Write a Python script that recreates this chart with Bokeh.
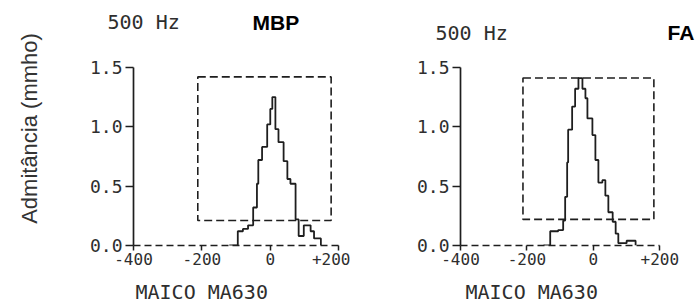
import numpy as np
from bokeh.plotting import figure
from bokeh.layouts import row, column
from bokeh.models import Label, Range1d, FixedTicker
from bokeh.embed import file_html
from bokeh.resources import INLINE

# ---- data ----
y_ticks = [0, 0.5, 1.0, 1.5]
y_tick_labels = {0: "0.0", 0.5: "0.5", 1: "1.0", 1.5: "1.5"}
x_ticks = [-400, -200, 0, 200]
x_tick_labels = {-400: "-400", -200: "-200", 0: "0", 200: "+200"}

# MBP panel (pressure daPa, admittance mmho), step trace
mbp_x = [-120, -95, -80, -65, -50, -39, -35, -24, -9, 0, 6, 15, 24, 39, 50, 59, 74, 83, 98, 118, 128, 148]
mbp_y = [0.0, 0.12, 0.14, 0.17, 0.32, 0.52, 0.72, 0.83, 1.02, 1.15, 1.25, 0.98, 0.87, 0.71, 0.56, 0.52, 0.22, 0.08, 0.17, 0.12, 0.06, 0.0]
mbp_box = dict(left=[-212], right=[178], bottom=[0.21], top=[1.42])

# FA panel
fa_x = [-150, -130, -106, -91, -85, -79, -76, -64, -55, -45, -33, -24, -18, -3, 6, 15, 27, 36, 45, 58, 67, 75, 100, 127]
fa_y = [0.0, 0.12, 0.13, 0.21, 0.41, 0.70, 0.975, 1.17, 1.32, 1.41, 1.32, 1.24, 1.07, 0.93, 0.72, 0.53, 0.55, 0.42, 0.28, 0.20, 0.10, 0.02, 0.04, 0.0]
fa_box = dict(left=[-212], right=[182], bottom=[0.22], top=[1.41])

MONO = "DejaVu Sans Mono"
SANS = "Liberation Sans"
INK = "#1e1e1e"
TXT = "#2e2e2e"


def make_panel(width, height, yend, mb_left, mb_right, mb_top, mb_bottom, xs, ys, box):
    p = figure(width=width, height=height, output_backend="svg", toolbar_location=None,
               x_range=Range1d(-400, 220), y_range=Range1d(0, yend),
               min_border_left=mb_left, min_border_right=mb_right,
               min_border_top=mb_top, min_border_bottom=mb_bottom)
    p.outline_line_color = None
    p.grid.visible = False
    p.background_fill_color = "white"

    ya = p.yaxis[0]
    ya.ticker = FixedTicker(ticks=y_ticks)
    ya.major_label_overrides = y_tick_labels
    ya.bounds = (0, 1.5)
    ya.axis_line_color = INK
    ya.axis_line_width = 1.7
    ya.major_tick_line_color = INK
    ya.major_tick_line_width = 1.5
    ya.major_tick_out = 8
    ya.major_tick_in = 0
    ya.minor_tick_line_color = None
    ya.major_label_standoff = 3
    ya.major_label_text_font = MONO
    ya.major_label_text_font_size = "18px"
    ya.major_label_text_color = TXT

    xa = p.xaxis[0]
    xa.ticker = FixedTicker(ticks=x_ticks)
    xa.major_label_overrides = x_tick_labels
    xa.bounds = (-400, 200)
    xa.axis_line_color = INK
    xa.axis_line_width = 1.6
    xa.axis_line_dash = "7 4"
    xa.major_tick_line_color = INK
    xa.major_tick_line_width = 1.5
    xa.major_tick_out = 5
    xa.major_tick_in = 0
    xa.minor_tick_line_color = None
    xa.major_label_standoff = 2
    xa.major_label_text_font = MONO
    xa.major_label_text_font_size = "16px"
    xa.major_label_text_color = TXT

    p.quad(left=box["left"], right=box["right"], bottom=box["bottom"], top=box["top"],
           fill_color=None, line_color=INK, line_width=1.6, line_dash="8 4")
    p.step(xs, ys, mode="after", line_color=INK, line_width=1.8)
    return p


def text_strip(width, height, x0, y0):
    # a plain strip whose data coordinates equal page pixels
    s = figure(width=width, height=height, output_backend="svg", toolbar_location=None,
               x_range=Range1d(x0, x0 + width), y_range=Range1d(y0 + height, y0),
               x_axis_type=None, y_axis_type=None,
               min_border_left=0, min_border_right=0, min_border_top=0, min_border_bottom=0)
    s.outline_line_color = None
    s.grid.visible = False
    return s


LW = 45  # left strip width for the y label

ylab = text_strip(LW, 306, 0, 0)
ylab.add_layout(Label(x=29, y=128, text="Admitância (mmho)", text_font=SANS, text_font_size="22px",
                      text_color="#333333", text_align="center", text_baseline="middle",
                      angle=np.pi / 2))

header = text_strip(699 - LW, 46, LW, 0)
header.add_layout(Label(x=107, y=21, text="500 Hz", text_font=MONO, text_font_size="20px",
                        text_color=TXT, text_baseline="middle"))
header.add_layout(Label(x=252, y=22, text="MBP", text_font=SANS, text_font_style="bold",
                        text_font_size="21px", text_color="black", text_baseline="middle"))
header.add_layout(Label(x=435, y=32, text="500 Hz", text_font=MONO, text_font_size="20px",
                        text_color=TXT, text_baseline="middle"))
header.add_layout(Label(x=667, y=32, text="FA", text_font=SANS, text_font_style="bold",
                        text_font_size="21px", text_color="black", text_baseline="middle"))

left = make_panel(305, 230, 1.6, 133 - LW, 5, 2, 31, mbp_x, mbp_y, mbp_box)
right = make_panel(349, 230, 1.6, 110, 33, 9, 29, fa_x, fa_y, fa_box)

footer = text_strip(699 - LW, 30, LW, 276)
footer.add_layout(Label(x=135, y=291, text="MAICO MA630", text_font=MONO, text_font_size="20px",
                        text_color=TXT, text_baseline="middle"))
footer.add_layout(Label(x=465, y=291, text="MAICO MA630", text_font=MONO, text_font_size="20px",
                        text_color=TXT, text_baseline="middle"))

layout = row(ylab, column(header, row(left, right), footer))
open("out.html", "w").write(file_html(layout, INLINE))
